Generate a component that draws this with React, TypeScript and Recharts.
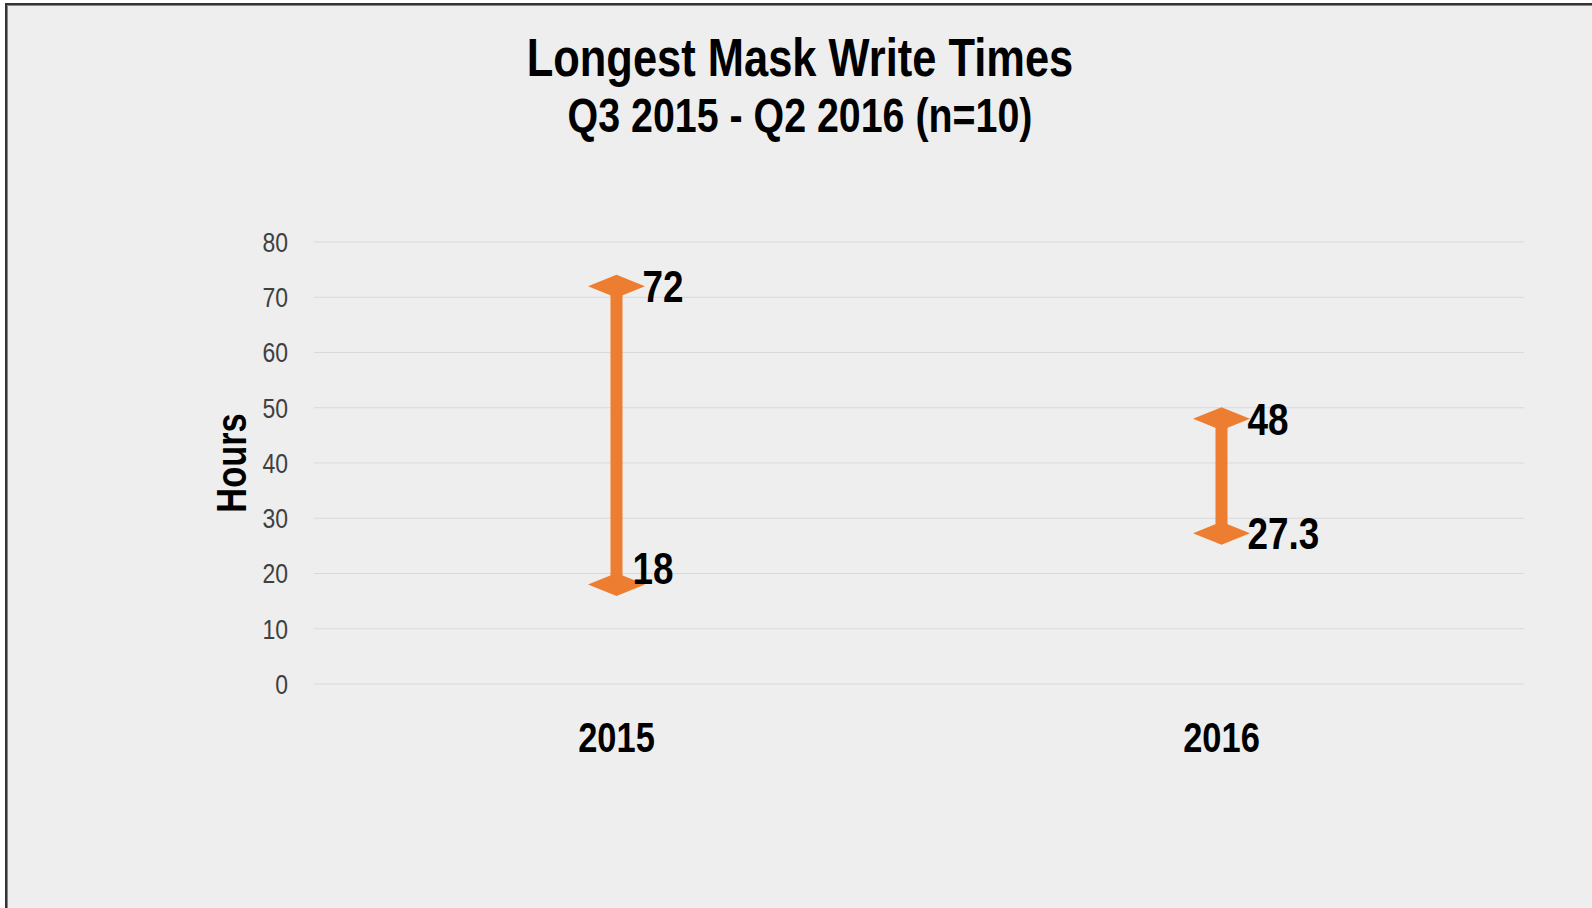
import React from 'react';
import {
  ComposedChart,
  Bar,
  Line,
  XAxis,
  YAxis,
  CartesianGrid,
  LabelList,
} from 'recharts';

const years = ['2015', '2016'];
const lowHours = [18, 27.3];
const highHours = [72, 48];
const hourTicks = [0, 10, 20, 30, 40, 50, 60, 70, 80];

const ORANGE = '#ED7D31';
const FONT = "'Liberation Sans', Arial, sans-serif";
// no Arial Narrow here, so squeeze Liberation Sans to its width
const NARROW = 0.82;

const chartData = years.map((year, i) => ({
  year,
  low: lowHours[i],
  high: highHours[i],
  range: [lowHours[i], highHours[i]],
}));

const NarrowText = ({ x, y, anchor = 'start', dy = '0', size, bold = false, fill = '#000', rotate = 0, children }: any) => (
  <text
    transform={`translate(${x}, ${y})${rotate ? ` rotate(${rotate})` : ''} scale(${NARROW}, 1)`}
    x={0}
    y={0}
    dy={dy}
    textAnchor={anchor}
    fontFamily={FONT}
    fontWeight={bold ? 'bold' : 'normal'}
    fontSize={size}
    fill={fill}
  >
    {children}
  </text>
);

// stem between the two diamonds
const Stem = (props: any) => {
  const { x, y, width, height } = props;
  if (x == null || y == null) return null;
  const cx = x + width / 2;
  return <rect x={cx - 6} y={y} width={12} height={height} fill={ORANGE} />;
};

const Diamond = (props: any) => {
  const { cx, cy } = props;
  if (cx == null || cy == null) return null;
  const hw = 28.5;
  const hh = 11.5;
  return (
    <path
      d={`M${cx - hw},${cy} L${cx},${cy - hh} L${cx + hw},${cy} L${cx},${cy + hh} Z`}
      fill={ORANGE}
    />
  );
};

const renderValue = (nudge: boolean) => (props: any) => {
  const { x, y, value, index } = props;
  // the 2015 low label sits a little up and in, as in the original slide
  const shifted = nudge && index === 0;
  return (
    <NarrowText x={x + (shifted ? 16 : 26)} y={y + (shifted ? -17 : 0)} dy="0.36em" size={45} bold>
      {value}
    </NarrowText>
  );
};

const YearTick = (props: any) => {
  const { x, y, payload } = props;
  return (
    <NarrowText x={x} y={y} anchor="middle" dy="0.71em" size={42} bold>
      {payload.value}
    </NarrowText>
  );
};

const HourTick = (props: any) => {
  const { x, y, payload } = props;
  return (
    <NarrowText x={x} y={y} anchor="end" dy="0.355em" size={28} fill="#404040">
      {payload.value}
    </NarrowText>
  );
};

const HoursLabel = (props: any) => {
  const vb = props.viewBox || {};
  const cy = vb.y + vb.height / 2;
  return (
    <NarrowText x={231} y={cy} rotate={-90} anchor="middle" dy="0.36em" size={42} bold>
      Hours
    </NarrowText>
  );
};

export default function App() {
  return (
    <div
      style={{
        position: 'fixed',
        left: 0,
        top: 0,
        width: 1592,
        height: 908,
        background: '#fff',
        overflow: 'hidden',
      }}
    >
      <div
        style={{
          position: 'absolute',
          left: 5,
          top: 3,
          width: 1620,
          height: 940,
          background: '#eeeeee',
          borderLeft: '2px solid #333',
          borderTop: '2px solid #333',
          boxShadow: 'inset 1px 1px 0 #888',
        }}
      />
      <svg width={1592} height={160} style={{ position: 'absolute', left: 0, top: 0 }}>
        <NarrowText x={800} y={76} anchor="middle" size={53} bold>
          Longest Mask Write Times
        </NarrowText>
        <NarrowText x={800} y={132} anchor="middle" size={48} bold>
          Q3 2015 - Q2 2016 (n=10)
        </NarrowText>
      </svg>
      <div style={{ position: 'absolute', left: 0, top: 0 }}>
        <ComposedChart
          width={1592}
          height={908}
          data={chartData}
          margin={{ top: 242, right: 68, bottom: 164, left: 234 }}
        >
          <CartesianGrid vertical={false} stroke="#d9d9d9" strokeWidth={1} />
          <XAxis
            dataKey="year"
            height={60}
            axisLine={false}
            tickLine={false}
            tickMargin={32}
            tick={<YearTick />}
          />
          <YAxis
            width={80}
            domain={[0, 80]}
            ticks={hourTicks}
            axisLine={false}
            tickLine={false}
            tickMargin={20}
            tick={<HourTick />}
            label={{ content: <HoursLabel /> }}
          />
          <Bar dataKey="range" shape={<Stem />} isAnimationActive={false} legendType="none" />
          <Line
            dataKey="high"
            stroke="none"
            dot={<Diamond />}
            activeDot={false}
            isAnimationActive={false}
            legendType="none"
          >
            <LabelList dataKey="high" content={renderValue(false)} />
          </Line>
          <Line
            dataKey="low"
            stroke="none"
            dot={<Diamond />}
            activeDot={false}
            isAnimationActive={false}
            legendType="none"
          >
            <LabelList dataKey="low" content={renderValue(true)} />
          </Line>
        </ComposedChart>
      </div>
    </div>
  );
}
